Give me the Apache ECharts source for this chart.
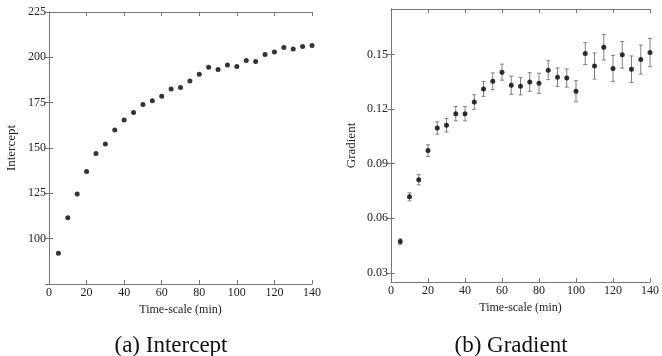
<!DOCTYPE html>
<html>
<head>
<meta charset="utf-8">
<script src="https://cdn.jsdelivr.net/npm/echarts@6/dist/echarts.min.js"></script>
<style>
  html, body { margin: 0; padding: 0; background: #fff; }
  #chart { width: 662px; height: 356px; }
</style>
</head>
<body>
<div id="chart"></div>
<script>
// time-scale in minutes, shared by both panels
var times = [5, 10, 15, 20, 25, 30, 35, 40, 45, 50, 55, 60, 65, 70, 75, 80, 85, 90, 95, 100, 105, 110, 115, 120, 125, 130, 135, 140];

// (a) intercept values
var intercept = [92, 111.6, 124.7, 137, 146.9, 152.2, 159.9, 165.4, 169.6, 174, 176, 178.6, 182.5, 183.4, 187, 190.7, 194.6, 193.3, 195.8, 195, 198.2, 197.7, 201.5, 203, 205.4, 204.6, 206, 206.5];

// (b) gradient values and their error (half length of the bar)
var gradient = [0.0472, 0.0718, 0.0812, 0.0972, 0.1096, 0.1111, 0.1175, 0.1175, 0.1239, 0.1311, 0.1353, 0.1403, 0.1331, 0.1326, 0.1349, 0.1342, 0.1414, 0.1375, 0.1371, 0.1298, 0.1505, 0.1437, 0.154, 0.1423, 0.1498, 0.1419, 0.1472, 0.1511];
var gradientErr = [0.0015, 0.0022, 0.0028, 0.0032, 0.0034, 0.0037, 0.0039, 0.004, 0.004, 0.0041, 0.0046, 0.0044, 0.005, 0.0048, 0.0051, 0.0055, 0.0052, 0.0051, 0.005, 0.0058, 0.006, 0.0072, 0.007, 0.0072, 0.0073, 0.0073, 0.008, 0.0078];

// tick labels
var gradientTicks = [0.03, 0.06, 0.09, 0.12, 0.15];

var chart = echarts.init(document.getElementById('chart'));

var serif = 'Liberation Serif';
var frame = '#777';

function pairs(ys) {
  return times.map(function (t, i) { return [t, ys[i]]; });
}

// a box axis: shows line + inward ticks, optionally labels
function xAx(grid, pos, labels) {
  return {
    type: 'value', gridIndex: grid, position: pos,
    min: 0, max: 140, interval: 20,
    axisLine: { show: true, onZero: false, lineStyle: { color: frame, width: 1 } },
    axisTick: { show: true, inside: true, length: 4, lineStyle: { color: frame } },
    axisLabel: { show: labels, color: '#222', fontFamily: serif, fontSize: 12, margin: 3 },
    splitLine: { show: false }
  };
}

var option = {
  animation: false,
  textStyle: { fontFamily: serif },
  title: [
    { text: '(a) Intercept', left: 166, top: 329, textAlign: 'center',
      textStyle: { fontFamily: serif, fontWeight: 'normal', fontSize: 23, color: '#111' } },
    { text: '(b) Gradient', left: 506, top: 329, textAlign: 'center',
      textStyle: { fontFamily: serif, fontWeight: 'normal', fontSize: 23, color: '#111' } }
  ],
  grid: [
    { left: 49, top: 12, width: 263, height: 272 },
    { left: 391, top: 9, width: 264, height: 273 }
  ],
  xAxis: [
    Object.assign(xAx(0, 'bottom', true), {
      name: 'Time-scale (min)', nameLocation: 'middle', nameGap: 17,
      nameTextStyle: { fontFamily: serif, fontSize: 12, color: '#222' }
    }),
    xAx(0, 'top', false),
    Object.assign(xAx(1, 'bottom', true), {
      name: 'Time-scale (min)', nameLocation: 'middle', nameGap: 17,
      nameTextStyle: { fontFamily: serif, fontSize: 12, color: '#222' }
    }),
    xAx(1, 'top', false)
  ],
  yAxis: [
    {
      type: 'value', gridIndex: 0, position: 'left',
      min: 75, max: 225, interval: 25,
      name: 'Intercept', nameLocation: 'middle', nameGap: 31,
      nameTextStyle: { fontFamily: serif, fontSize: 13, color: '#222' },
      axisLine: { show: true, lineStyle: { color: frame } },
      axisTick: { show: true, inside: true, length: 4, lineStyle: { color: frame } },
      axisLabel: { color: '#222', fontFamily: serif, fontSize: 12, margin: 3, showMinLabel: false },
      splitLine: { show: false }
    },
    {
      type: 'value', gridIndex: 0, position: 'right',
      min: 75, max: 225, interval: 25,
      axisLine: { show: true, lineStyle: { color: frame } },
      axisTick: { show: true, inside: true, length: 4, lineStyle: { color: frame } },
      axisLabel: { show: false },
      splitLine: { show: false }
    },
    {
      type: 'value', gridIndex: 1, position: 'left',
      min: 0.025, max: 0.175,
      name: 'Gradient', nameLocation: 'middle', nameGap: 33,
      nameTextStyle: { fontFamily: serif, fontSize: 13, color: '#222' },
      axisLine: { show: true, lineStyle: { color: frame } },
      axisTick: { show: true, inside: true, length: 4, lineStyle: { color: frame }, customValues: gradientTicks },
      axisLabel: { color: '#222', fontFamily: serif, fontSize: 12, margin: 3, customValues: gradientTicks,
        formatter: function (v) { return v.toFixed(2); } },
      splitLine: { show: false }
    },
    {
      type: 'value', gridIndex: 1, position: 'right',
      min: 0.025, max: 0.175,
      axisLine: { show: true, lineStyle: { color: frame } },
      axisTick: { show: true, inside: true, length: 4, lineStyle: { color: frame }, customValues: gradientTicks },
      axisLabel: { show: false },
      splitLine: { show: false }
    }
  ],
  series: [
    {
      type: 'scatter', xAxisIndex: 0, yAxisIndex: 0,
      data: pairs(intercept),
      symbol: 'circle', symbolSize: 5,
      itemStyle: { color: '#000' }
    },
    {
      type: 'custom', xAxisIndex: 2, yAxisIndex: 2,
      data: times.map(function (t, i) { return [t, gradient[i] - gradientErr[i], gradient[i] + gradientErr[i]]; }),
      renderItem: function (params, api) {
        var lo = api.coord([api.value(0), api.value(1)]);
        var hi = api.coord([api.value(0), api.value(2)]);
        var w = 2;
        var st = { stroke: '#808080', lineWidth: 1 };
        return {
          type: 'group',
          children: [
            { type: 'line', shape: { x1: lo[0], y1: lo[1], x2: hi[0], y2: hi[1] }, style: st },
            { type: 'line', shape: { x1: lo[0] - w, y1: lo[1], x2: lo[0] + w, y2: lo[1] }, style: st },
            { type: 'line', shape: { x1: hi[0] - w, y1: hi[1], x2: hi[0] + w, y2: hi[1] }, style: st }
          ]
        };
      },
      z: 1
    },
    {
      type: 'scatter', xAxisIndex: 2, yAxisIndex: 2,
      data: pairs(gradient),
      symbol: 'circle', symbolSize: 5,
      itemStyle: { color: '#000' },
      z: 3
    }
  ]
};

chart.setOption(option);
</script>
</body>
</html>
